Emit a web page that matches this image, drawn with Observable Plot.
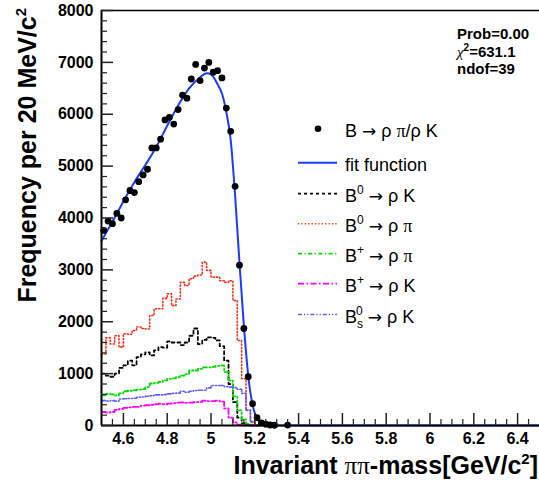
<!DOCTYPE html>
<html><head><meta charset="utf-8">
<script src="https://cdn.jsdelivr.net/npm/d3@7"></script>
<script src="https://cdn.jsdelivr.net/npm/@observablehq/plot@0.6"></script>
<style>
body{margin:0;background:#fff}
svg text{font-family:"Liberation Sans",Arial,Helvetica,sans-serif}
</style>
</head><body><div id="chart"></div>
<script>
// ---- data ----
const binStart = 4.50, binWidth = 0.02; // histogram bins: 4.50 .. 5.22
// data points (bin centres) and counts
const dataMass = [4.51,4.53,4.55,4.57,4.59,4.61,4.63,4.65,4.67,4.69,4.71,4.73,4.75,4.77,4.79,4.81,4.83,4.85,4.87,4.89,4.91,4.93,4.95,4.97,4.99,5.01,5.03,5.05,5.07,5.09,5.11,5.13,5.15,5.17,5.19,5.21,5.23,5.25,5.27,5.29,5.35];
const dataCount = [3760,3940,3890,4090,4000,4350,4530,4490,4700,4830,4940,5350,5350,5520,5890,5940,5810,6090,6370,6310,6680,6960,6650,6890,7000,6810,6840,6700,6120,5670,4610,3090,1870,940,420,150,50,25,10,5,8];
// fit function
const fitMass = [4.50,4.55,4.60,4.65,4.70,4.75,4.80,4.85,4.90,4.95,4.98,5.00,5.03,5.05,5.07,5.09,5.11,5.13,5.15,5.17,5.19,5.21,5.23,5.25,5.30,6.50];
const fitCount = [3560,3930,4320,4690,5020,5370,5780,6170,6500,6710,6790,6770,6580,6400,6040,5500,4440,3140,1930,960,390,135,40,10,0,0];
// component histograms (36 bins from 4.50 to 5.22)
const hB0rhoK  = [1000,960,940,1000,1110,1160,1250,1160,1320,1370,1410,1350,1450,1510,1500,1620,1600,1600,1550,1600,1730,1870,1570,1650,1700,1690,1640,1530,1250,800,450,150,40,10,0,0];
const hB0rhoPi = [1380,1690,1570,1730,1510,1770,1760,1830,1900,1870,1860,2120,2250,2250,2450,2540,2310,2440,2760,2700,2830,2880,2900,3150,2990,2860,2860,2790,2760,2790,2410,1640,900,290,60,10];
const hBpRhoPi = [580,610,600,580,620,660,670,680,690,700,740,810,820,840,870,900,910,930,960,990,1060,1060,1090,1120,1120,1130,1150,1160,1030,870,560,290,120,30,0,0];
const hBpRhoK  = [260,250,260,300,320,340,350,360,360,385,390,400,410,420,410,420,430,440,445,435,440,450,455,480,470,470,480,460,330,150,60,15,0,0,0,0];
const hBsRhoK  = [480,470,480,470,510,515,520,525,545,550,565,575,590,590,595,610,620,625,660,640,660,675,680,680,725,770,770,770,750,740,730,700,620,300,80,0];
// axes
const xTicks = [4.6,4.8,5.0,5.2,5.4,5.6,5.8,6.0,6.2,6.4];
const yTicks = [0,1000,2000,3000,4000,5000,6000,7000,8000];
const xDomain = [4.5, 6.5], yDomain = [0, 8000];
const stats = ["Prob=0.00", "=631.1", "ndof=39"];

// ---- build ----
const points = dataMass.map((m, i) => ({m, c: dataCount[i]}));
const fit = fitMass.map((m, i) => ({m, c: fitCount[i]}));
function steps(arr) {
  const out = arr.map((v, i) => ({m: binStart + binWidth * i, c: v}));
  out.push({m: binStart + binWidth * arr.length, c: arr[arr.length - 1]});
  return out;
}
const xMinor = d3.range(91, 130).filter(i => i % 4 !== 0).map(i => i / 20);
const yMinor = d3.range(200, 8000, 200).filter(d => d % 1000 !== 0);

const histStyles = [
  {data: hB0rhoK,  stroke: "#000000", dash: "3,3", w: 1.8},
  {data: hB0rhoPi, stroke: "#ff2a10", dash: "1.2,2.2", w: 1.6},
  {data: hBpRhoPi, stroke: "#00dd00", dash: "4,2.5,1.2,2.5", w: 1.8},
  {data: hBpRhoK,  stroke: "#ff00ff", dash: "6,2.5,1.5,2.5", w: 1.8},
  {data: hBsRhoK,  stroke: "#5c5cff", dash: "4,2,1.2,2,1.2,2", w: 1.6}
];
const fitColor = "#1a3cff";

const W = 539, H = 484;
const chart = Plot.plot({
  width: W, height: H,
  marginLeft: 101, marginRight: 0, marginTop: 10, marginBottom: 59,
  x: {domain: xDomain, label: null},
  y: {domain: yDomain, label: null},
  style: {fontFamily: "'Liberation Sans', Arial, sans-serif", background: "#fff", color: "#000"},
  marks: [
    ...histStyles.map(h => Plot.line(steps(h.data), {x: "m", y: "c", curve: "step-after", stroke: h.stroke, strokeWidth: h.w, strokeDasharray: h.dash})),
    Plot.line(fit, {x: "m", y: "c", curve: "monotone-x", stroke: fitColor, strokeWidth: 2}),
    Plot.dot(points, {x: "m", y: "c", r: 3.4, fill: "#000", stroke: null}),
    // frame
    Plot.ruleY([yDomain[1]], {stroke: "#000", strokeWidth: 1.3}),
    Plot.ruleY([yDomain[0]], {stroke: "#000", strokeWidth: 2}),
    Plot.ruleX([xDomain[0]], {stroke: "#000", strokeWidth: 2}),
    // ticks inside the frame
    Plot.axisY({ticks: yTicks, tickSize: 12, dx: 12, text: null, label: null, stroke: "#222", strokeWidth: 1.5}),
    Plot.axisY({ticks: yMinor, tickSize: 6, dx: 6, text: null, label: null, stroke: "#222", strokeWidth: 1.2}),
    Plot.axisX({ticks: xTicks, tickSize: 12, dy: -12, text: null, label: null, stroke: "#222", strokeWidth: 1.5}),
    Plot.axisX({ticks: xMinor, tickSize: 6, dy: -6, text: null, label: null, stroke: "#222", strokeWidth: 1.2}),
    // labels
    Plot.axisY({ticks: yTicks, tickSize: 0, tickPadding: 8, tickFormat: d => String(d), label: null, fontSize: 16, fontWeight: "bold"}),
    Plot.axisX({ticks: xTicks, tickSize: 0, tickPadding: 7, tickFormat: d3.format("~g"), label: null, fontSize: 16, fontWeight: "bold"})
  ]
});
document.getElementById("chart").appendChild(chart);

// ---- titles, stats and legend ----
const svg = d3.select(chart);
const g = svg.append("g").attr("fill", "#000").attr("text-anchor", "start");

// y title
const yt = g.append("text").attr("transform", "translate(36,8) rotate(-90)")
  .attr("text-anchor", "end").attr("font-size", 25).attr("font-weight", "bold");
yt.append("tspan").text("Frequency per 20 MeV/c");
yt.append("tspan").attr("font-size", 15).attr("dy", -10).text("2");

// x title
const xt = g.append("text").attr("x", 538).attr("y", 474)
  .attr("text-anchor", "end").attr("font-size", 25).attr("font-weight", "bold");
xt.append("tspan").text("Invariant ");
xt.append("tspan").attr("font-weight", "normal").attr("font-family", "'Liberation Serif', serif").attr("font-size", 25).text("ππ");
xt.append("tspan").text("-mass[GeV/c");
xt.append("tspan").attr("font-size", 15).attr("dy", -10).text("2");
xt.append("tspan").attr("dy", 10).text("]");

// stats box
const st = g.append("g").attr("font-size", 15).attr("font-weight", "bold").attr("text-anchor", "start");
st.append("text").attr("x", 457).attr("y", 39).text(stats[0]);
const chi = st.append("text").attr("x", 457).attr("y", 56.5);
chi.append("tspan").attr("font-weight", "normal").attr("font-family", "'Liberation Serif', serif").attr("font-style", "italic").attr("font-size", 15).text("χ");
chi.append("tspan").attr("font-size", 10).attr("dy", -6).text("2");
chi.append("tspan").attr("dy", 6).text(stats[1]);
st.append("text").attr("x", 457).attr("y", 74).text(stats[2]);

// legend
const legendRows = [
  {kind: "dot", base: 137.3, parts: [["B "], ["→", "arrow"], [" ρ "], ["π", "pi"], ["/ρ K"]]},
  {kind: "line", stroke: fitColor, dash: null, w: 2, base: 170.7, parts: [["fit function"]]},
  {kind: "line", stroke: histStyles[0].stroke, dash: histStyles[0].dash, w: histStyles[0].w, base: 201.7, parts: [["B"], ["0", "sup"], [" "], ["→", "arrow"], [" ρ K"]]},
  {kind: "line", stroke: histStyles[1].stroke, dash: histStyles[1].dash, w: histStyles[1].w, base: 231.7, parts: [["B"], ["0", "sup"], [" "], ["→", "arrow"], [" ρ "], ["π", "pi"]]},
  {kind: "line", stroke: histStyles[2].stroke, dash: histStyles[2].dash, w: histStyles[2].w, base: 261.7, parts: [["B"], ["+", "sup"], [" "], ["→", "arrow"], [" ρ "], ["π", "pi"]]},
  {kind: "line", stroke: histStyles[3].stroke, dash: histStyles[3].dash, w: histStyles[3].w, base: 291.7, parts: [["B"], ["+", "sup"], [" "], ["→", "arrow"], [" ρ K"]]},
  {kind: "line", stroke: histStyles[4].stroke, dash: histStyles[4].dash, w: histStyles[4].w, base: 322.5, parts: [["B"], ["s", "sub"], ["0", "supback"], [" "], ["→", "arrow"], [" ρ K"]]}
];
const lg = g.append("g").attr("font-size", 18).attr("text-anchor", "start");
legendRows.forEach(r => {
  const cy = r.base - 8;
  if (r.kind === "dot") {
    lg.append("circle").attr("cx", 318).attr("cy", cy - 0.5).attr("r", 3.3).attr("fill", "#000");
  } else {
    lg.append("line").attr("x1", 298).attr("x2", 337).attr("y1", cy).attr("y2", cy)
      .attr("stroke", r.stroke).attr("stroke-width", r.w).attr("stroke-dasharray", r.dash);
  }
  const t = lg.append("text").attr("x", 345).attr("y", r.base);
  let shift = 0;
  r.parts.forEach(([s, mode]) => {
    const sp = t.append("tspan").text(s);
    if (mode === "sup") { sp.attr("font-size", 12).attr("dy", -8 - shift); shift = -8; }
    else if (mode === "sub") { sp.attr("font-size", 12).attr("dy", 5 - shift); shift = 5; }
    else if (mode === "supback") { sp.attr("font-size", 12).attr("dx", -7).attr("dy", -8 - shift); shift = -8; }
    else {
      if (mode === "pi") sp.attr("font-family", "'Liberation Serif', serif");
      if (mode === "arrow") sp.attr("font-family", "'DejaVu Sans', sans-serif").attr("font-size", 17);
      if (shift !== 0) sp.attr("dy", -shift);
      shift = 0;
    }
  });
});
</script>
</body></html>
